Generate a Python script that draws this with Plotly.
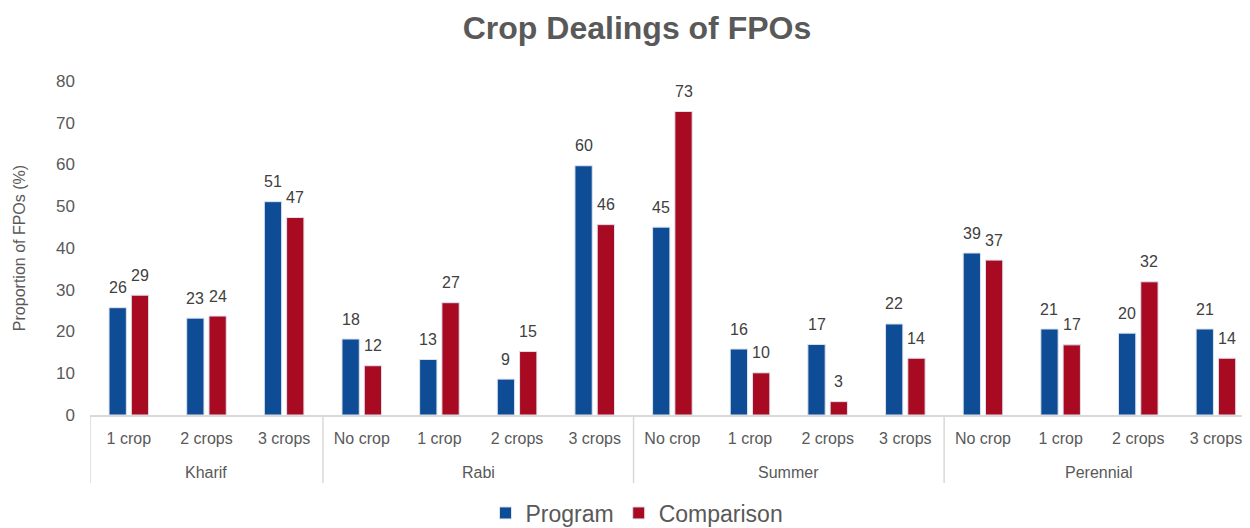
import plotly.graph_objects as go

seasons = ["Kharif"] * 3 + ["Rabi"] * 4 + ["Summer"] * 4 + ["Perennial"] * 4
crops = ["1 crop", "2 crops", "3 crops",
         "No crop", "1 crop", "2 crops", "3 crops",
         "No crop", "1 crop", "2 crops", "3 crops",
         "No crop", "1 crop", "2 crops", "3 crops"]
program = [25.7, 23.2, 51.1, 18.2, 13.3, 8.6, 59.7, 45.0, 15.8, 16.9, 21.8, 38.8, 20.6, 19.6, 20.6]
comparison = [28.7, 23.7, 47.3, 11.8, 26.9, 15.2, 45.6, 72.7, 10.1, 3.2, 13.6, 37.1, 16.8, 31.9, 13.6]

BLUE = "#0E4C96"
RED = "#A80A22"
GRAY = "#595959"
LABEL = "#404040"
LINE = "#D9D9D9"
FONT = "Liberation Sans, Arial, sans-serif"

# the page body adds an 8px margin, so the figure is 8px smaller than the window
W, H = 1242, 520
M_L, M_T = 82, 73
PLOT_H = 334
M_B = H - M_T - PLOT_H
PLOT_W = W - M_L
CAT_PX = 77.65

keys = [f"{s} | {c}" for s, c in zip(seasons, crops)]
n = len(keys)

fig = go.Figure()
series = [("Program", program, BLUE, -1), ("Comparison", comparison, RED, 1)]
for name, vals, col, side in series:
    fig.add_trace(go.Bar(
        name=name,
        x=keys,
        y=vals,
        marker=dict(color=col, line=dict(color="#DCE3EE", width=1)),
        hoverinfo="y+name",
    ))

# data labels (annotations at each bar's value, shifted to its slot)
BAR_SLOT_PX = 11.15
for name, vals, col, side in series:
    for k, v in zip(keys, vals):
        fig.add_annotation(
            x=k, y=v, xref="x", yref="y",
            text=f"{v:.0f}", showarrow=False,
            xshift=side * BAR_SLOT_PX, yshift=20, yanchor="middle",
            font=dict(size=16, color=LABEL, family=FONT),
        )

# group labels and dividers
groups = []
for i, s in enumerate(seasons):
    if not groups or groups[-1][0] != s:
        groups.append([s, i, i])
    else:
        groups[-1][2] = i

for s, a, b in groups:
    fig.add_annotation(
        x=(a + b) / 2, y=-57 / PLOT_H, xref="x", yref="paper",
        text=s, showarrow=False, yanchor="middle",
        font=dict(size=16, color=GRAY, family=FONT),
    )
bounds = [g[1] - 0.5 for g in groups] + [groups[-1][2] + 0.5]
for xb in bounds:
    fig.add_shape(type="line", xref="x", yref="paper",
                  x0=xb, x1=xb, y0=0, y1=-68 / PLOT_H,
                  line=dict(color=LINE, width=1.5), layer="below")

fig.update_layout(
    width=W, height=H,
    barmode="group",
    bargap=0.426,
    bargroupgap=0.224,
    paper_bgcolor="white",
    plot_bgcolor="white",
    font=dict(family=FONT, color=GRAY, size=16),
    title=dict(text="<b>Crop Dealings of FPOs</b>", x=629 / W, xanchor="center",
               xref="container", yref="container",
               y=1 - 20 / H, yanchor="middle", font=dict(size=32, color=GRAY, family=FONT)),
    margin=dict(l=M_L, r=0, t=M_T, b=M_B, autoexpand=False),
    showlegend=True,
    legend=dict(orientation="h", xref="container", yref="container",
                x=629 / W, xanchor="center", y=1 - 505 / H, yanchor="middle",
                font=dict(size=23, color=GRAY, family=FONT), itemwidth=30,
                traceorder="normal"),
)
fig.update_yaxes(
    range=[0, 80], dtick=10, showgrid=False, zeroline=False, showline=False,
    tickfont=dict(size=17, color=GRAY, family=FONT), ticks="",
    ticklabelstandoff=14, automargin=False,
    title=dict(text="Proportion of FPOs (%)", font=dict(size=16, color=GRAY, family=FONT), standoff=26),
)
fig.update_xaxes(
    type="category",
    range=[-0.5, -0.5 + PLOT_W / CAT_PX],
    tickvals=keys, ticktext=crops,
    showline=True, linecolor=LINE, linewidth=1.5,
    showgrid=False,
    tickfont=dict(size=16, color=GRAY, family=FONT), ticks="",
    ticklabelstandoff=8, automargin=False,
)

fig.write_html("out.html")
